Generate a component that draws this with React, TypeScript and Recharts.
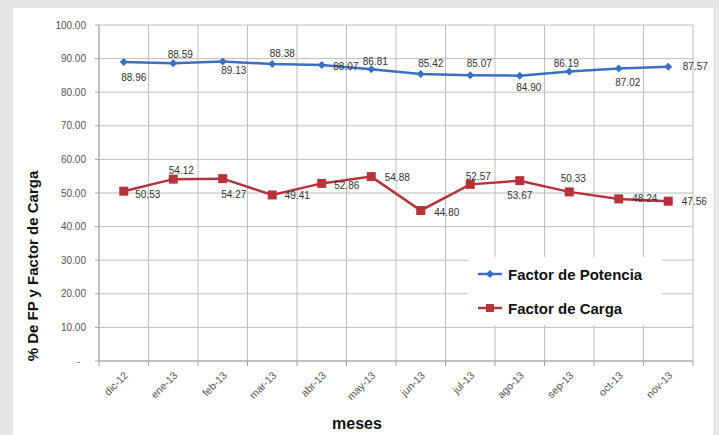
import React from 'react';
import { LineChart, Line, XAxis, YAxis, CartesianGrid, LabelList } from 'recharts';

// Meses del periodo
const meses = ['dic-12', 'ene-13', 'feb-13', 'mar-13', 'abr-13', 'may-13', 'jun-13', 'jul-13', 'ago-13', 'sep-13', 'oct-13', 'nov-13'];
// % de factor de potencia por mes
const factorPotencia = [88.96, 88.59, 89.13, 88.38, 88.07, 86.81, 85.42, 85.07, 84.9, 86.19, 87.02, 87.57];
// % de factor de carga por mes
const factorCarga = [50.53, 54.12, 54.27, 49.41, 52.86, 54.88, 44.8, 52.57, 53.67, 50.33, 48.24, 47.56];
const yTicks = [0, 10, 20, 30, 40, 50, 60, 70, 80, 90, 100];

// desplazamiento de cada etiqueta respecto a su punto (dx, dy)
const potenciaLabelOffsets = [
  [10, 15], [7, -9], [11, 9], [10, -11], [24, 1], [4, -8],
  [10, -10], [9, -12], [9, 12], [-3, -8], [9, 14], [27, 0],
];
const cargaLabelOffsets = [
  [24, 3], [8, -9], [11, 16], [25, 1], [25, 2], [26, 1],
  [26, 2], [8, -8], [0, 15], [4, -13], [26, 0], [26, 0],
];

const W = 719;
const H = 435;
const MARGIN = { top: 25, right: 26, bottom: 24, left: 39 };
const Y_AXIS_W = 60;
const X_AXIS_H = 50;
const PLOT_W = W - MARGIN.left - MARGIN.right - Y_AXIS_W;

const AZUL = '#3c6fc2';
const ROJO = '#b5333a';
const GRID = '#bebebe';
const EJE = '#a3a3a3';
const FONT = '"Liberation Sans", Arial, sans-serif';

const data = meses.map((mes, i) => ({
  mes,
  potencia: factorPotencia[i],
  carga: factorCarga[i],
}));

const Diamond = (props: any) => {
  const { cx, cy, index } = props;
  const r = 4;
  return (
    <path
      key={`d-${index}`}
      d={`M${cx},${cy - r} L${cx + r},${cy} L${cx},${cy + r} L${cx - r},${cy} Z`}
      fill={AZUL}
    />
  );
};

const Square = (props: any) => {
  const { cx, cy, index } = props;
  const s = 9;
  return <rect key={`s-${index}`} x={cx - s / 2} y={cy - s / 2} width={s} height={s} fill={ROJO} />;
};

const makeLabel = (offsets: number[][]) => (props: any) => {
  const { x, y, value, index } = props;
  const [dx, dy] = offsets[index] || [0, -10];
  return (
    <text
      x={x + dx}
      y={y + dy}
      textAnchor="middle"
      dominantBaseline="central"
      fontSize={10}
      fontFamily={FONT}
      fill="#333"
    >
      {Number(value).toFixed(2)}
    </text>
  );
};

const MesTick = (props: any) => {
  const { x, y, payload, index } = props;
  const bw = PLOT_W / meses.length;
  return (
    <g>
      <line x1={x - bw / 2} x2={x - bw / 2} y1={y} y2={y + 5} stroke={EJE} />
      {index === meses.length - 1 && (
        <line x1={x + bw / 2} x2={x + bw / 2} y1={y} y2={y + 5} stroke={EJE} />
      )}
      <text
        transform={`translate(${x + 5},${y + 15}) rotate(-45)`}
        textAnchor="end"
        fontSize={10.5}
        fontFamily={FONT}
        fill="#555"
      >
        {payload.value}
      </text>
    </g>
  );
};

const ValorTick = (props: any) => {
  const { x, y, payload } = props;
  const v = payload.value;
  return (
    <text
      x={v === 0 ? x - 6 : x}
      y={y}
      textAnchor="end"
      dominantBaseline="central"
      fontSize={10}
      fontFamily={FONT}
      fill="#555"
    >
      {v === 0 ? '-' : v.toFixed(2)}
    </text>
  );
};

const LeyendaItem = ({ color, square, text }: { color: string; square?: boolean; text: string }) => (
  <div style={{ display: 'flex', alignItems: 'center', height: 34 }}>
    <svg width={34} height={14}>
      <line x1={4} x2={28} y1={7} y2={7} stroke={color} strokeWidth={2.5} />
      {square ? (
        <rect x={12} y={3} width={8} height={8} fill={color} />
      ) : (
        <path d="M16,3 L20,7 L16,11 L12,7 Z" fill={color} />
      )}
    </svg>
    <span style={{ fontFamily: FONT, fontWeight: 'bold', fontSize: 15, color: '#111' }}>{text}</span>
  </div>
);

export default function App() {
  return (
    <div style={{ position: 'absolute', left: 0, top: 0, width: W, height: H, background: '#e6e7e9', overflow: 'hidden' }}>
      <div style={{ position: 'absolute', left: 13, top: 8, width: 700, height: 440, background: '#fff' }} />
      <div style={{ position: 'absolute', left: 0, top: 0 }}>
        <LineChart width={W} height={H} data={data} margin={MARGIN}>
          <CartesianGrid
            stroke={GRID}
            verticalCoordinatesGenerator={({ offset }: any) =>
              Array.from({ length: meses.length + 1 }, (_, i) => offset.left + (i * offset.width) / meses.length)
            }
          />
          <XAxis
            dataKey="mes"
            scale="band"
            height={X_AXIS_H}
            interval={0}
            tickSize={0}
            tickMargin={0}
            tickLine={false}
            axisLine={{ stroke: EJE }}
            tick={<MesTick />}
          />
          <YAxis
            width={Y_AXIS_W}
            domain={[0, 100]}
            ticks={yTicks}
            interval={0}
            tickSize={4}
            tickMargin={9}
            axisLine={{ stroke: EJE }}
            tickLine={{ stroke: EJE }}
            tick={<ValorTick />}
            label={() => (
              <text
                transform="translate(38,266) rotate(-90)"
                textAnchor="middle"
                fontSize={15}
                fontWeight="bold"
                fontFamily={FONT}
                fill="#111"
              >
                % De FP y Factor de Carga
              </text>
            )}
          />
          <Line
            dataKey="potencia"
            stroke={AZUL}
            strokeWidth={2.5}
            dot={Diamond}
            activeDot={false}
            isAnimationActive={false}
          >
            <LabelList dataKey="potencia" content={makeLabel(potenciaLabelOffsets)} />
          </Line>
          <Line
            dataKey="carga"
            stroke={ROJO}
            strokeWidth={2.5}
            dot={Square}
            activeDot={false}
            isAnimationActive={false}
          >
            <LabelList dataKey="carga" content={makeLabel(cargaLabelOffsets)} />
          </Line>
        </LineChart>
      </div>
      <div
        style={{
          position: 'absolute',
          left: 468,
          top: 257,
          width: 194,
          height: 68,
          background: '#fff',
          paddingLeft: 6,
          boxSizing: 'border-box',
        }}
      >
        <LeyendaItem color={AZUL} text="Factor de Potencia" />
        <LeyendaItem color={ROJO} square text="Factor de Carga" />
      </div>
      <div
        style={{
          position: 'absolute',
          left: 332,
          top: 415,
          fontFamily: FONT,
          fontWeight: 'bold',
          fontSize: 16,
          color: '#111',
        }}
      >
        meses
      </div>
    </div>
  );
}
